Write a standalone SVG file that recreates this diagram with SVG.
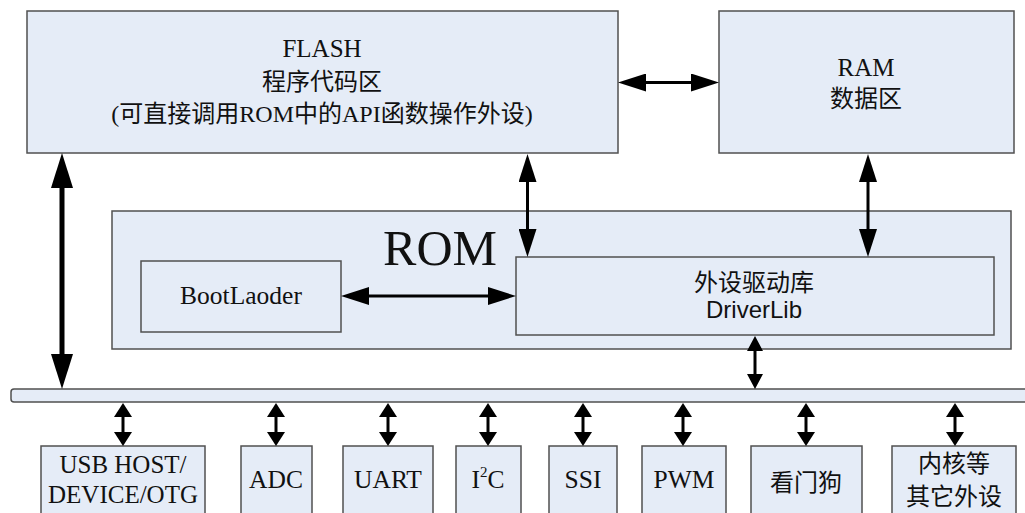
<svg xmlns="http://www.w3.org/2000/svg" width="1025" height="513" viewBox="0 0 1025 513">
<style>
.box{fill:#E5ECF7;stroke:#505050;stroke-width:1.5}
.t{font-family:"Liberation Serif","Noto Sans CJK SC",serif;font-size:24px;fill:#111;text-anchor:middle}
.l25{font-size:25px}
.l26{font-size:25.5px}
.a{font-family:"Liberation Sans","Noto Sans CJK SC",sans-serif;font-size:24px;fill:#111;text-anchor:middle}
.c{stroke:#000;fill:none}
.w5{stroke-width:5}
.w3{stroke-width:3}
</style>
<defs>
<marker id="hb" markerUnits="userSpaceOnUse" viewBox="0 0 35 22" refX="0" refY="11" markerWidth="35" markerHeight="22" orient="auto-start-reverse"><path d="M0,0 L35,11 L0,22 z" fill="#000"/></marker>
<marker id="hm" markerUnits="userSpaceOnUse" viewBox="0 0 28 18" refX="0" refY="9" markerWidth="28" markerHeight="18" orient="auto-start-reverse"><path d="M0,0 L28,9 L0,18 z" fill="#000"/></marker>
<marker id="hs" markerUnits="userSpaceOnUse" viewBox="0 0 14 18" refX="0" refY="9" markerWidth="14" markerHeight="18" orient="auto-start-reverse"><path d="M0,0 L14,9 L0,18 z" fill="#000"/></marker>
<marker id="hd" markerUnits="userSpaceOnUse" viewBox="0 0 15 16" refX="0" refY="8" markerWidth="15" markerHeight="16" orient="auto-start-reverse"><path d="M0,0 L15,8 L0,16 z" fill="#000"/></marker>
</defs>

<g id="flash">
<rect class="box" x="27" y="11" width="591" height="142"/>
<text class="t l25" x="322" y="57">FLASH</text>
<text class="t" x="322" y="90">程序代码区</text>
<text class="t" x="322" y="122">(可直接调用ROM中的API函数操作外设)</text>
</g>
<g id="ram">
<rect class="box" x="719" y="11" width="295" height="142"/>
<text class="t l25" x="866" y="76">RAM</text>
<text class="t" x="866" y="107">数据区</text>
</g>
<g id="rom">
<rect class="box" x="112" y="211" width="899" height="138"/>
<text class="t" x="440" y="265" style="font-size:50px">ROM</text>
</g>
<g id="bootloader">
<rect class="box" x="141" y="261" width="200" height="71"/>
<text class="t l26" x="241" y="304">BootLaoder</text>
</g>
<g id="driverlib">
<rect class="box" x="516" y="257" width="478" height="78"/>
<text class="t" x="754" y="291">外设驱动库</text>
<text class="a" x="754" y="318">DriverLib</text>
</g>
<g id="bus">
<rect class="box" x="11" y="389" width="1030" height="13" rx="3" ry="3"/>
</g>
<g id="usb">
<rect class="box" x="41" y="446" width="164" height="80"/>
<text class="t l25" x="123" y="473">USB HOST/</text>
<text class="t l25" x="123" y="503">DEVICE/OTG</text>
</g>
<g id="adc">
<rect class="box" x="241" y="446" width="71" height="80"/>
<text class="t l26" x="276" y="488">ADC</text>
</g>
<g id="uart">
<rect class="box" x="343" y="446" width="90" height="80"/>
<text class="t l26" x="388" y="488">UART</text>
</g>
<g id="i2c">
<rect class="box" x="456" y="446" width="65" height="80"/>
<text class="t l26" x="488" y="488">I<tspan style="font-size:15px" dy="-11">2</tspan><tspan dy="11">C</tspan></text>
</g>
<g id="ssi">
<rect class="box" x="549" y="446" width="68" height="80"/>
<text class="t l26" x="583" y="488">SSI</text>
</g>
<g id="pwm">
<rect class="box" x="642" y="446" width="84" height="80"/>
<text class="t l26" x="684" y="488">PWM</text>
</g>
<g id="watchdog">
<rect class="box" x="751" y="446" width="111" height="80"/>
<text class="t" x="806" y="491">看门狗</text>
</g>
<g id="others">
<rect class="box" x="892" y="446" width="124" height="80"/>
<text class="t" x="954" y="472">内核等</text>
<text class="t" x="954" y="505">其它外设</text>
</g>

<g id="connectors">
<line class="c w3" x1="646" y1="82.5" x2="691" y2="82.5" marker-start="url(#hm)" marker-end="url(#hm)"/>
<line class="c w5" x1="62" y1="188" x2="62" y2="354" marker-start="url(#hb)" marker-end="url(#hb)"/>
<line class="c w3" x1="527.5" y1="182" x2="527.5" y2="229" marker-start="url(#hm)" marker-end="url(#hm)"/>
<line class="c w3" x1="868" y1="182" x2="868" y2="229" marker-start="url(#hm)" marker-end="url(#hm)"/>
<line class="c w3" x1="369" y1="296" x2="488" y2="296" marker-start="url(#hm)" marker-end="url(#hm)"/>
<line class="c w3" x1="755" y1="351" x2="755" y2="374" marker-start="url(#hd)" marker-end="url(#hd)"/>
<line class="c w3" x1="123" y1="417" x2="123" y2="432" marker-start="url(#hs)" marker-end="url(#hs)"/>
<line class="c w3" x1="276" y1="417" x2="276" y2="432" marker-start="url(#hs)" marker-end="url(#hs)"/>
<line class="c w3" x1="388" y1="417" x2="388" y2="432" marker-start="url(#hs)" marker-end="url(#hs)"/>
<line class="c w3" x1="488" y1="417" x2="488" y2="432" marker-start="url(#hs)" marker-end="url(#hs)"/>
<line class="c w3" x1="583" y1="417" x2="583" y2="432" marker-start="url(#hs)" marker-end="url(#hs)"/>
<line class="c w3" x1="683" y1="417" x2="683" y2="432" marker-start="url(#hs)" marker-end="url(#hs)"/>
<line class="c w3" x1="806" y1="417" x2="806" y2="432" marker-start="url(#hs)" marker-end="url(#hs)"/>
<line class="c w3" x1="955" y1="417" x2="955" y2="432" marker-start="url(#hs)" marker-end="url(#hs)"/>
</g>
</svg>
